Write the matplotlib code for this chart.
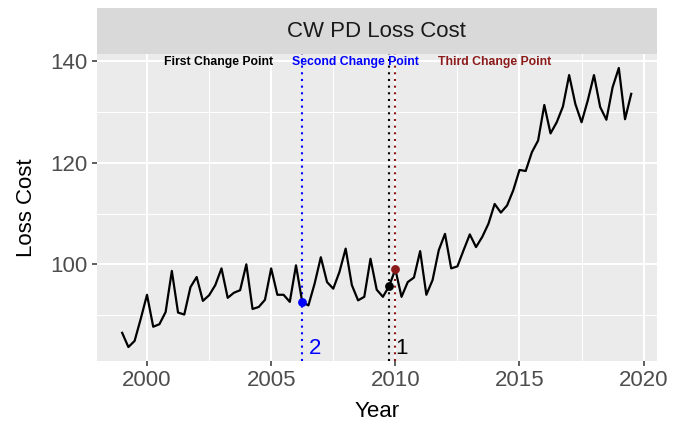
"""CW PD Loss Cost with three change points, ggplot-like look."""

import matplotlib

matplotlib.use("Agg")
import matplotlib.pyplot as plt
from matplotlib.ticker import MultipleLocator

plt.rcParams["font.family"] = ["Liberation Sans", "DejaVu Sans"]

# quarterly series, 1999 Q1 .. 2019 Q3
start_year = 1999.0
loss_cost = [
    86.5, 83.7, 84.9, 89.3,
    94.0, 87.7, 88.2, 90.6,
    98.7, 90.5, 90.1, 95.5,
    97.5, 92.8, 93.9, 95.9,
    99.2, 93.4, 94.4, 94.9,
    100.0, 91.2, 91.6, 93.0,
    99.2, 94.0, 94.0, 92.6,
    99.8, 92.6, 91.9, 96.2,
    101.4, 96.5, 95.2, 98.5,
    103.1, 95.9, 92.9, 93.6,
    101.1, 95.0, 93.6, 95.7,
    99.0, 93.6, 96.5, 97.4,
    102.6, 94.0, 96.9, 102.8,
    106.0, 99.2, 99.6, 102.8,
    105.9, 103.4, 105.4, 108.0,
    111.9, 110.2, 111.6, 114.6,
    118.6, 118.4, 122.1, 124.4,
    131.4, 125.8, 128.0, 131.1,
    137.3, 131.6, 128.0, 132.3,
    137.3, 131.0, 128.5, 134.9,
    138.7, 128.6, 133.6,
]
years = [start_year + 0.25 * i for i in range(len(loss_cost))]

# change points: name, year, colour, number label
cp_names = ["First Change Point", "Second Change Point", "Third Change Point"]
cp_years = [2009.75, 2006.25, 2010.0]
cp_colors = ["black", "blue", "#8B1A1A"]
cp_labels = ["1", "2", ""]
cp_title_x = [2002.9, 2008.4, 2014.0]

title = "CW PD Loss Cost"

fig = plt.figure(figsize=(6.74, 4.24), dpi=100)
ax = fig.add_axes([0.1435, 0.1486, 0.9743 - 0.1435, 0.8726 - 0.1486])
strip = fig.add_axes([0.1435, 0.8726, 0.9743 - 0.1435, 0.9811 - 0.8726])

ax.set_facecolor("#EBEBEB")
for s in ax.spines.values():
    s.set_visible(False)

ax.plot(years, loss_cost, color="black", linewidth=1.6, zorder=3)

for name, yr, col, lab, tx in zip(cp_names, cp_years, cp_colors, cp_labels, cp_title_x):
    ax.axvline(yr, color=col, linestyle=(0, (1, 2.2)), linewidth=1.5, zorder=2)
    val = loss_cost[years.index(yr)]
    ax.scatter([yr], [val], s=40, color=col, zorder=4, linewidths=0)
    ax.text(tx, 139.8, name, color=col, fontsize=8.8, fontweight="bold",
            ha="center", va="center", zorder=5)
    if lab:
        ax.annotate(lab, xy=(yr, 83.5), xytext=(4.6, 0), textcoords="offset points",
                    color=col, fontsize=16, ha="left", va="center", zorder=5)

rng_y = max(loss_cost) - min(loss_cost)
rng_x = years[-1] - years[0]
ax.set_ylim(min(loss_cost) - 0.05 * rng_y, max(loss_cost) + 0.05 * rng_y)
ax.set_xlim(years[0] - 0.05 * rng_x, years[-1] + 0.05 * rng_x)

ax.xaxis.set_major_locator(MultipleLocator(5))
ax.xaxis.set_minor_locator(MultipleLocator(2.5))
ax.yaxis.set_major_locator(MultipleLocator(20))
ax.yaxis.set_minor_locator(MultipleLocator(10))
ax.grid(which="major", color="white", linewidth=1.5, zorder=0)
ax.grid(which="minor", color="white", linewidth=0.75, zorder=0)
ax.set_axisbelow(True)
ax.tick_params(which="major", length=3.5, width=1.1, color="#333333",
               labelcolor="#4D4D4D", labelsize=16, pad=3)
ax.tick_params(which="minor", length=0)

ax.set_xlabel("Year", fontsize=16, color="black", labelpad=7)
ax.set_ylabel("Loss Cost", fontsize=16, color="black", labelpad=10)

strip.set_facecolor("#D9D9D9")
strip.set_xticks([])
strip.set_yticks([])
for s in strip.spines.values():
    s.set_visible(False)
strip.text(0.5, 0.5, title, fontsize=16, color="#1A1A1A", ha="center", va="center",
           transform=strip.transAxes)

fig.savefig("out.png", dpi=100)
